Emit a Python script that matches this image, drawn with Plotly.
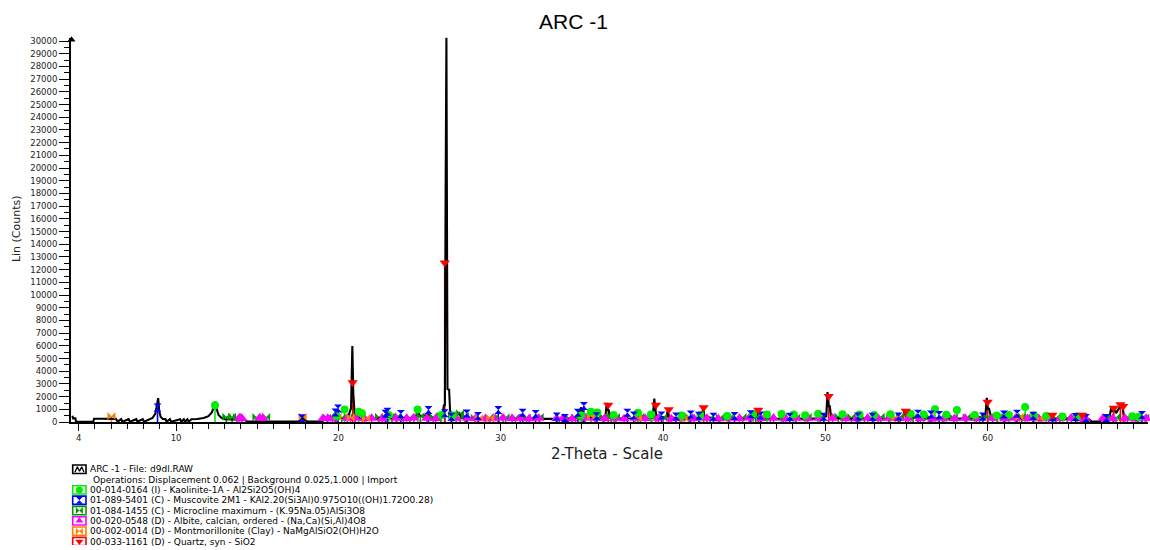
import plotly.graph_objects as go

W, H = 1150, 550

# ---- measured diffraction pattern (2-theta in degrees, counts) ----
pattern_2t = [3.62, 3.66, 3.80, 3.84, 4.90, 4.95, 5.40, 5.90, 6.30, 6.40,
              6.62, 6.70, 7.08, 7.16, 7.55, 7.63, 7.95, 8.03, 8.35, 8.55,
              8.72, 8.82, 8.90, 8.96, 9.05, 9.20, 9.35, 9.42, 9.62, 9.70,
              10.25, 10.33, 10.48, 10.56, 10.70, 10.78, 10.95, 11.30, 11.70, 12.00,
              12.20, 12.33, 12.42, 12.50, 12.62, 12.80, 13.00, 13.50, 14.20, 14.40,
              16.00, 17.50, 17.70, 17.78, 17.90, 18.10, 18.90, 19.20, 19.50, 19.85,
              20.00, 20.30, 20.60, 20.78, 20.86, 20.92, 21.00, 21.30, 21.80, 22.40,
              22.95, 23.20, 23.80, 24.40, 24.80, 24.90, 25.00, 25.60, 25.80, 26.20,
              26.42, 26.50, 26.56, 26.59, 26.60, 26.655, 26.67, 26.68, 26.72, 26.82,
              26.88, 26.98, 27.20, 27.45, 27.60, 28.00, 28.60, 29.40, 30.00, 30.80,
              31.50, 32.30, 32.80, 33.20, 34.00, 34.70, 34.95, 35.10, 35.60, 36.10,
              36.45, 36.53, 36.58, 36.64, 36.75, 37.40, 38.00, 38.50, 39.30, 39.40,
              39.46, 39.52, 39.60, 40.20, 40.28, 40.35, 41.00, 41.80, 42.40, 42.46,
              42.55, 43.20, 44.00, 45.00, 45.70, 45.80, 45.90, 46.50, 47.50, 48.50,
              49.50, 50.05, 50.13, 50.20, 50.27, 50.35, 51.00, 52.00, 53.00, 54.00,
              54.80, 54.88, 54.95, 55.30, 55.40, 56.00, 57.00, 58.00, 59.00, 59.85,
              59.94, 60.00, 60.08, 60.20, 61.00, 62.00, 63.00, 63.95, 64.10, 65.00,
              65.80, 66.20, 66.40, 66.90, 67.10, 67.50, 67.62, 67.70, 67.78, 67.90,
              68.05, 68.15, 68.30, 68.40, 68.60, 69.40, 69.90]
pattern_cps = [500, 290, 290, 30, 30, 260, 260, 270, 250, 30,
               230, 30, 230, 30, 230, 30, 230, 30, 230, 320,
               650, 1250, 1890, 900, 420, 230, 230, 30, 230, 30,
               220, 30, 220, 30, 220, 30, 220, 240, 320, 470,
               760, 1150, 1600, 1050, 560, 330, 220, 200, 190, 40,
               40, 40, 200, 450, 200, 40, 40, 200, 260, 680,
               350, 300, 420, 1100, 5980, 2200, 700, 300, 280, 260,
               520, 280, 260, 260, 500, 1160, 480, 560, 300, 330,
               620, 1320, 1350, 7250, 16700, 30300, 16700, 7250, 2600, 2550,
               900, 520, 400, 690, 320, 280, 260, 250, 260, 240,
               250, 240, 250, 260, 250, 380, 1150, 520, 350, 300,
               450, 1510, 900, 1000, 380, 280, 280, 300, 350, 950,
               1850, 900, 450, 360, 880, 400, 280, 270, 420, 1100,
               450, 270, 260, 260, 380, 760, 380, 260, 260, 260,
               270, 450, 2360, 1260, 1250, 400, 270, 260, 260, 270,
               420, 980, 700, 700, 350, 280, 270, 260, 270, 450,
               1900, 1070, 1050, 380, 280, 280, 260, 420, 250, 250,
               400, 250, 40, 40, 280, 380, 1250, 800, 1100, 700,
               1000, 1250, 1200, 450, 280, 250, 220]

# ---- reference phase sticks (2-theta, counts) ----
kao_2t = [12.40, 19.88, 20.38, 21.25, 21.45, 23.10, 24.88, 26.35, 27.05, 34.95,
          35.55, 35.95, 36.95, 38.45, 39.25, 41.15, 42.30, 43.95, 45.55, 46.40,
          47.30, 48.05, 48.75, 49.55, 51.05, 52.10, 53.00, 54.00, 55.25, 56.05,
          56.75, 57.45, 58.10, 59.20, 60.55, 61.30, 62.30, 62.85, 63.60, 64.60,
          65.50, 68.90, 69.30]
kao_cps = [1320, 480, 1000, 820, 700, 560, 1000, 560, 520, 520,
           820, 760, 560, 740, 600, 520, 560, 480, 620, 600,
           640, 600, 540, 660, 620, 600, 560, 620, 660, 600,
           1020, 580, 950, 560, 520, 560, 1180, 520, 480, 440,
           460, 460, 420]

mus_2t = [8.86, 17.75, 19.82, 19.98, 22.90, 23.02, 23.85, 25.55, 26.55, 26.95,
          27.90, 28.60, 29.85, 31.35, 32.15, 33.45, 33.95, 34.75, 35.12, 35.90,
          37.80, 38.20, 39.90, 40.80, 41.70, 42.20, 43.10, 44.40, 45.40, 46.00,
          47.80, 49.90, 52.00, 52.90, 54.50, 55.70, 56.50, 57.00, 59.70, 61.00,
          61.80, 62.80, 64.00, 65.40, 66.05, 67.30, 69.50]
mus_cps = [1150, 300, 760, 1070, 660, 820, 640, 950, 700, 420,
           680, 480, 950, 740, 640, 430, 320, 740, 1260, 460,
           740, 520, 520, 440, 600, 500, 420, 480, 620, 520,
           420, 420, 440, 420, 440, 660, 600, 560, 440, 600,
           660, 500, 380, 400, 320, 320, 560]

mic_2t = [13.10, 13.45, 13.75, 14.95, 15.55, 19.30, 20.20, 21.00, 22.50, 23.30,
          23.60, 24.00, 24.40, 25.05, 25.85, 26.30, 27.00, 27.50, 27.80, 28.40,
          29.30, 29.90, 30.30, 30.90, 31.60, 32.40, 33.60, 34.20, 34.60, 35.05,
          36.30, 36.80, 37.10, 38.60, 39.30, 40.00, 41.60, 42.90, 43.50, 44.10,
          44.90, 45.70, 46.60, 47.40, 48.20, 48.90, 49.70, 50.80, 51.60, 52.40,
          53.40, 54.00, 54.60, 55.40, 56.40, 57.20, 57.90, 58.70, 59.50, 60.00,
          60.60, 61.10, 62.10, 62.80, 63.30, 64.20, 64.90, 65.90, 67.30, 67.90,
          68.60, 69.20, 69.70]
mic_cps = [420, 420, 400, 400, 400, 340, 360, 380, 420, 460,
           400, 360, 380, 460, 420, 500, 560, 700, 480, 340,
           360, 340, 380, 360, 340, 400, 320, 340, 320, 420,
           460, 360, 400, 420, 380, 360, 400, 320, 340, 360,
           400, 360, 380, 360, 340, 400, 360, 440, 400, 360,
           420, 380, 440, 400, 440, 360, 360, 380, 400, 380,
           360, 420, 440, 360, 380, 340, 360, 340, 360, 380,
           420, 340, 360]

alb_2t = [13.90, 14.05, 15.15, 15.35, 19.05, 19.35, 19.65, 20.55, 21.05, 21.60,
          22.05, 22.70, 23.55, 24.20, 24.65, 25.45, 26.00, 27.25, 27.95, 28.45,
          29.05, 29.55, 30.15, 30.70, 31.20, 31.75, 32.35, 33.45, 33.85, 34.40,
          35.20, 35.80, 36.40, 37.05, 37.60, 38.30, 38.90, 39.70, 40.50, 41.05,
          41.90, 42.70, 43.40, 44.05, 44.70, 45.30, 46.05, 46.80, 47.55, 48.20,
          48.90, 49.60, 50.45, 51.25, 51.90, 52.60, 53.25, 53.90, 54.50, 55.10,
          55.85, 56.60, 57.30, 57.95, 58.60, 59.30, 60.30, 61.05, 61.70, 62.45,
          63.15, 63.75, 64.45, 65.15, 65.75, 66.00, 67.10, 67.70, 68.45, 69.10,
          69.75]
alb_cps = [330, 300, 330, 300, 280, 300, 260, 300, 320, 280,
           300, 260, 300, 280, 320, 300, 280, 300, 310, 280,
           260, 300, 320, 280, 300, 270, 300, 280, 300, 260,
           320, 300, 280, 300, 260, 310, 280, 300, 260, 300,
           280, 310, 260, 300, 280, 320, 290, 300, 270, 300,
           280, 310, 300, 280, 260, 300, 280, 310, 290, 300,
           280, 260, 300, 280, 310, 290, 300, 270, 300, 280,
           260, 300, 280, 300, 270, 290, 300, 280, 300, 260,
           300]

mon_2t = [6.02, 17.80, 19.95, 20.75, 21.70, 28.65, 29.35, 35.55, 38.45, 41.30,
          54.30, 61.95, 63.20]
mon_cps = [470, 420, 420, 350, 300, 300, 330, 460, 330, 320,
           350, 420, 300]

qtz_2t = [20.88, 26.55, 36.62, 39.56, 40.35, 42.50, 45.86, 50.20, 54.95, 59.99,
          63.98, 65.82, 67.76, 68.17, 68.34]
qtz_cps = [3120, 12550, 1340, 1340, 1000, 1150, 950, 2040, 870, 1590,
           560, 560, 1100, 1380, 1250]

# ---- axis ticks ----
x_tickvals = [4, 10, 20, 30, 40, 50, 60]
x_ticktext = ["4", "10", "20", "30", "40", "50", "60"]

# ---- legend text ----
scan_label = "ARC -1 - File: d9dl.RAW"
ops_label = "Operations: Displacement 0.062 | Background 0.025,1.000 | Import"
phase_labels = [
    "00-014-0164 (I) - Kaolinite-1A - Al2Si2O5(OH)4",
    "01-089-5401 (C) - Muscovite 2M1 - KAl2.20(Si3Al)0.975O10((OH)1.72O0.28)",
    "01-084-1455 (C) - Microcline maximum - (K.95Na.05)AlSi3O8",
    "00-020-0548 (D) - Albite, calcian, ordered - (Na,Ca)(Si,Al)4O8",
    "00-002-0014 (D) - Montmorillonite (Clay) - NaMgAlSiO2(OH)H2O",
    "00-033-1161 (D) - Quartz, syn - SiO2",
]

phases = [
    # (x, y, colour, symbol, marker size)
    (kao_2t, kao_cps, "#00ee00", "circle", 8),
    (mus_2t, mus_cps, "#0000ff", "hourglass", 8),
    (mic_2t, mic_cps, "#009900", "bowtie", 8),
    (alb_2t, alb_cps, "#ff00ff", "triangle-up", 10),
    (mon_2t, mon_cps, "#ff8000", "bowtie", 8),
    (qtz_2t, qtz_cps, "#ff0000", "triangle-down", 9),
]
draw_order = [2, 3, 4, 0, 1, 5]

SMALL = "DejaVu Sans, Verdana, sans-serif"

fig = go.Figure()

# stick lines under the pattern
for i in draw_order:
    xs, ys, col, sym, msize = phases[i]
    sx, sy = [], []
    for x, y in zip(xs, ys):
        sx += [x, x, None]
        sy += [0, y, None]
    fig.add_trace(go.Scatter(x=sx, y=sy, mode="lines",
                             line=dict(color=col, width=1.6),
                             hoverinfo="skip", showlegend=False))

# measured pattern
fig.add_trace(go.Scatter(x=pattern_2t, y=pattern_cps, mode="lines",
                         line=dict(color="black", width=2.1),
                         hoverinfo="skip", showlegend=False))

# phase markers on top
for i in draw_order:
    xs, ys, col, sym, msize = phases[i]
    fig.add_trace(go.Scatter(x=xs, y=ys, mode="markers",
                             marker=dict(color=col, symbol=sym, size=msize,
                                         line=dict(width=0)),
                             hoverinfo="skip", showlegend=False, cliponaxis=False))

# ---- pixel-space overlay for legend glyphs and the axis arrow ----
x0_px, x1_px = 71, 1148
y_top_px, y_bot_px = 36.3, 425.5

fig.add_trace(go.Scatter(x=[x0_px + 0.5], y=[y_top_px + 2], xaxis="x2", yaxis="y2",
                         mode="markers",
                         marker=dict(symbol="triangle-up", size=7, color="black"),
                         hoverinfo="skip", showlegend=False, cliponaxis=False))

row0 = 473.3
row_h = 10.45
box_l, box_r = 72.7, 86.0
shapes = []
annotations = []

# scan entry (black icon)
shapes.append(dict(type="rect", xref="x2", yref="y2", x0=box_l, x1=box_r,
                   y0=row0 - 4.3, y1=row0 + 4.3,
                   line=dict(color="black", width=1.6), fillcolor="rgba(0,0,0,0)"))
fig.add_trace(go.Scatter(x=[75, 77.3, 79.5, 81.7, 84],
                         y=[row0 + 3, row0 - 2.5, row0 + 2, row0 - 2.5, row0 + 3],
                         xaxis="x2", yaxis="y2", mode="lines",
                         line=dict(color="black", width=1.3),
                         hoverinfo="skip", showlegend=False, cliponaxis=False))
annotations.append(dict(text=scan_label, xref="x2", yref="y2", x=87.5, y=row0,
                        xanchor="left", yanchor="middle", showarrow=False,
                        font=dict(family=SMALL, size=9, color="black")))
annotations.append(dict(text=ops_label, xref="x2", yref="y2", x=90.5, y=row0 + row_h,
                        xanchor="left", yanchor="middle", showarrow=False,
                        font=dict(family=SMALL, size=9, color="black")))

for k, (label, ph) in enumerate(zip(phase_labels, phases)):
    cy = row0 + (k + 2) * row_h
    col, sym = ph[2], ph[3]
    shapes.append(dict(type="rect", xref="x2", yref="y2", x0=box_l, x1=box_r,
                       y0=cy - 4.2, y1=cy + 4.2,
                       line=dict(color=col, width=1.6), fillcolor="rgba(0,0,0,0)"))
    fig.add_trace(go.Scatter(x=[(box_l + box_r) / 2], y=[cy], xaxis="x2", yaxis="y2",
                             mode="markers",
                             marker=dict(color=col, symbol=sym, size=7, line=dict(width=0)),
                             hoverinfo="skip", showlegend=False, cliponaxis=False))
    annotations.append(dict(text=label, xref="x2", yref="y2", x=87.5, y=cy,
                            xanchor="left", yanchor="middle", showarrow=False,
                            font=dict(family=SMALL, size=9, color="black")))

# titles
annotations.append(dict(text="ARC -1", xref="paper", yref="paper",
                        x=573 / W, y=1 - 20 / H, xanchor="center", yanchor="middle",
                        showarrow=False,
                        font=dict(family="Liberation Sans, Arial, sans-serif", size=21,
                                  color="black")))
annotations.append(dict(text="2-Theta - Scale", xref="paper", yref="paper",
                        x=607.5 / W, y=1 - 458 / H, xanchor="center", yanchor="middle",
                        showarrow=False,
                        font=dict(family=SMALL, size=15, color="#222")))
annotations.append(dict(text="Lin (Counts)", xref="paper", yref="paper",
                        x=16 / W, y=1 - 230 / H, xanchor="center", yanchor="middle",
                        textangle=-90, showarrow=False,
                        font=dict(family=SMALL, size=11, color="#222")))

fig.update_layout(
    width=W, height=H,
    margin=dict(l=0, r=0, t=0, b=0),
    paper_bgcolor="white",
    plot_bgcolor="rgba(0,0,0,0)",
    showlegend=False,
    xaxis=dict(domain=[x0_px / W, x1_px / W], anchor="y",
               range=[3.53, 69.87], showline=True, linecolor="black", linewidth=2,
               ticks="outside", tickvals=x_tickvals, ticktext=x_ticktext,
               ticklen=7, tickwidth=1.3, tickcolor="black",
               tickfont=dict(family=SMALL, size=8.5, color="#222"),
               minor=dict(tickmode="linear", tick0=0, dtick=1, ticks="outside",
                          ticklen=5, tickwidth=1.2, tickcolor="black"),
               showgrid=False, zeroline=False, fixedrange=True),
    yaxis=dict(domain=[1 - y_bot_px / H, 1 - y_top_px / H], anchor="x",
               range=[0, 30250], showline=True, linecolor="black", linewidth=2,
               ticks="outside", tickmode="linear", tick0=0, dtick=1000,
               tickformat="d",
               ticklen=10, tickwidth=1.3, tickcolor="black",
               tickfont=dict(family=SMALL, size=8.5, color="#222"),
               minor=dict(tickmode="linear", tick0=0, dtick=500, ticks="outside",
                          ticklen=5, tickwidth=1.2, tickcolor="black"),
               showgrid=False, zeroline=False, fixedrange=True),
    xaxis2=dict(domain=[0, 1], anchor="y2", range=[0, W], visible=False,
                fixedrange=True),
    yaxis2=dict(domain=[0, 1], anchor="x2", range=[H, 0], visible=False,
                fixedrange=True),
    shapes=shapes,
    annotations=annotations,
)

fig.write_html("out.html")
